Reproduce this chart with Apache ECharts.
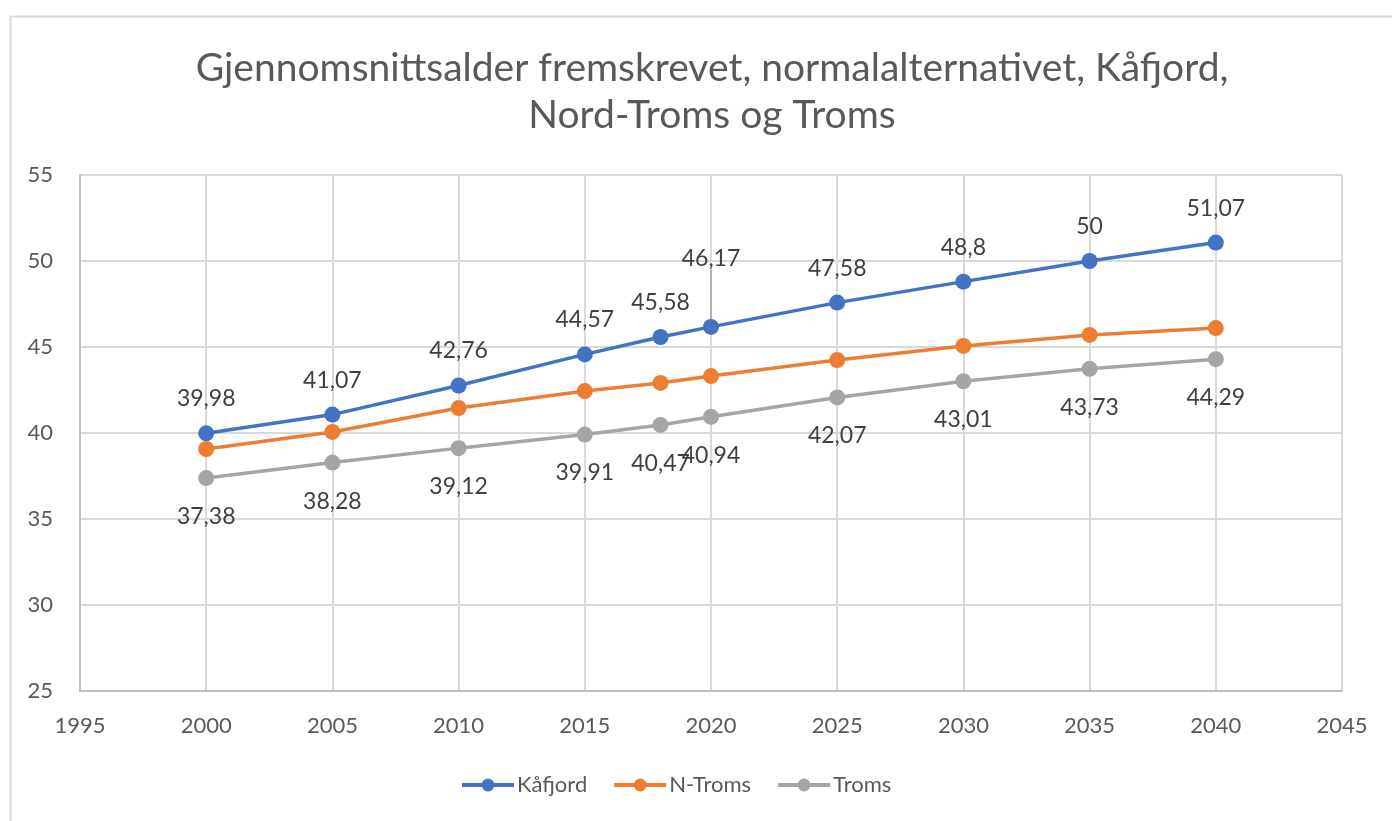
<!DOCTYPE html>
<html>
<head>
<meta charset="utf-8">
<script src="https://cdn.jsdelivr.net/npm/echarts@6/dist/echarts.min.js"></script>
<style>
  html, body { margin: 0; padding: 0; background: #fff; }
  #main { width: 1392px; height: 821px; }
</style>
</head>
<body>
<div id="main"></div>
<script>
// år og verdier
const years = [2000, 2005, 2010, 2015, 2018, 2020, 2025, 2030, 2035, 2040];
const kafjord = [39.98, 41.07, 42.76, 44.57, 45.58, 46.17, 47.58, 48.8, 50, 51.07];
const nTroms = [39.07, 40.06, 41.45, 42.44, 42.91, 43.31, 44.24, 45.06, 45.70, 46.10];
const troms = [37.38, 38.28, 39.12, 39.91, 40.47, 40.94, 42.07, 43.01, 43.73, 44.29];

const FONT = 'Lato';
const fmt = v => String(v).replace('.', ',');
const pairs = arr => years.map((y, i) => [y, arr[i]]);
// etiketten for 2020 er flyttet opp, med strek ned til punktet
const movedIdx = 5;

const chart = echarts.init(document.getElementById('main'));

const option = {
    backgroundColor: '#fff',
    animation: false,
    textStyle: { fontFamily: FONT },
    title: {
        text: 'Gjennomsnittsalder fremskrevet, normalalternativet, Kåfjord,\nNord-Troms og Troms',
        left: 707,
        textAlign: 'center',
        top: 40,
        textStyle: { fontFamily: FONT, fontSize: 39, fontWeight: 'normal', color: '#595959', lineHeight: 47 }
    },
    graphic: [{
        type: 'rect',
        left: 8, top: 14,
        shape: { width: 1400, height: 820 },
        style: { fill: 'none', stroke: '#d9d9d9', lineWidth: 2 },
        silent: true
    }],
    legend: {
        bottom: 20,
        left: 455,
        itemWidth: 52,
        itemHeight: 16,
        itemGap: 25,
        lineStyle: { width: 4 },
        textStyle: { fontFamily: FONT, fontSize: 22, color: '#595959', padding: [0, 0, 0, -2] },
        data: ['Kåfjord', 'N-Troms', 'Troms']
    },
    grid: { left: 80, right: 50, top: 175, bottom: 130 },
    xAxis: {
        type: 'value',
        min: 1995, max: 2045, interval: 5,
        axisLine: { lineStyle: { color: '#bfbfbf', width: 2 } },
        axisTick: { show: false },
        axisLabel: { fontSize: 22, color: '#595959', margin: 24, formatter: v => String(v) },
        splitLine: { lineStyle: { color: '#d9d9d9', width: 2 } }
    },
    yAxis: {
        type: 'value',
        min: 25, max: 55, interval: 5,
        axisLine: { show: true, lineStyle: { color: '#bfbfbf', width: 2 } },
        axisTick: { show: false },
        axisLabel: { fontSize: 22, color: '#595959', margin: 27 },
        splitLine: { lineStyle: { color: '#d9d9d9', width: 2 } }
    },
    series: [{
        name: 'Kåfjord',
        type: 'line',
        data: pairs(kafjord).map((p, i) => i === movedIdx
            ? { value: p, labelLine: { show: true, lineStyle: { color: '#a6a6a6', width: 1.5 } } }
            : { value: p }),
        color: '#4472c4',
        symbol: 'circle',
        symbolSize: 16,
        lineStyle: { width: 3.5 },
        label: {
            show: true, position: 'top', distance: 15,
            fontSize: 23, color: '#404040',
            formatter: p => fmt(p.value[1])
        },
        labelLayout: p => (p.dataIndex === movedIdx ? { dy: -34 } : {}),
        labelLine: { show: false },
        z: 4
    }, {
        name: 'N-Troms',
        type: 'line',
        data: pairs(nTroms),
        color: '#ed7d31',
        symbol: 'circle',
        symbolSize: 16,
        lineStyle: { width: 3.5 },
        z: 3
    }, {
        name: 'Troms',
        type: 'line',
        data: pairs(troms),
        color: '#a5a5a5',
        symbol: 'circle',
        symbolSize: 16,
        lineStyle: { width: 3.5 },
        label: {
            show: true, position: 'bottom', distance: 19,
            fontSize: 23, color: '#404040',
            formatter: p => fmt(p.value[1])
        },
        z: 2
    }]
};

chart.setOption(option);
</script>
</body>
</html>
